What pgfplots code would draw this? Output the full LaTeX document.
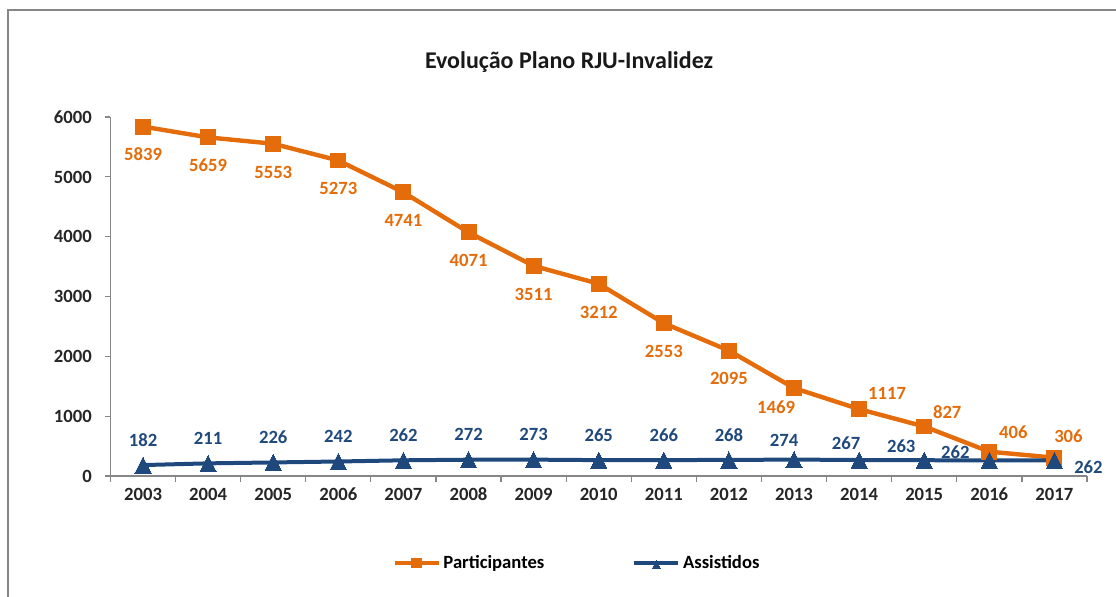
\documentclass[border=0pt]{standalone}
\usepackage{pgfplots}
\usepackage{pgfplotstable}
\usepackage{fontspec}
\setmainfont{Carlito}
\pgfplotsset{compat=1.18}
\definecolor{corange}{HTML}{E46C0A}
\definecolor{cblue}{HTML}{1F497D}
\definecolor{caxis}{HTML}{868686}

\pgfplotstableread{
x y dx dy
2003 5839 0 -21
2004 5659 0 -21
2005 5553 0 -21
2006 5273 0 -21
2007 4741 0 -21
2008 4071 0 -21
2009 3511 0 -21
2010 3212 0 -21
2011 2553 0 -21
2012 2095 0 -21
2013 1469 -13.5 -14.25
2014 1117 21 12
2015 827 17.25 10.5
2016 406 18 15
2017 306 10.5 16.5
}\participantes

\pgfplotstableread{
x y dx dy
2003 182 0 21
2004 211 0 21
2005 226 0 21
2006 242 0 21
2007 262 0 21
2008 272 0 21
2009 273 0 21
2010 265 0 21
2011 266 0 21
2012 268 0 21
2013 274 -7.5 16.5
2014 267 -9.75 15
2015 263 -17.25 12.75
2016 262 -25.5 8.25
2017 262 25.5 -3
}\assistidos

\begin{document}
\begin{tikzpicture}
\begin{axis}[
  scale only axis,
  width=732.4pt, height=269.25pt,
  xmin=2002.5, xmax=2017.5,
  ymin=0, ymax=6000,
  axis lines*=left,
  axis line style={caxis, line width=0.9pt},
  tick align=outside,
  major tick length=4.5pt,
  tick style={caxis, line width=0.9pt},
  xtick={2002.5,2003.5,...,2017.5},
  xticklabels={},
  extra x ticks={2003,2004,...,2017},
  extra x tick style={major tick length=0pt},
  ytick={0,1000,...,6000},
  /pgf/number format/1000 sep={},
  /pgf/number format/assume math mode=true,
  tick label style={font=\fontsize{14}{16}\selectfont\bfseries, text=black!85, text height=9.5pt, text depth=0pt},
  xticklabel style={yshift=-5pt},
  yticklabel style={xshift=-6pt},
  clip=false,
  legend columns=2,
  legend style={draw=none, at={(0.478,-0.2423)}, anchor=center,
    font=\fontsize{14}{16}\selectfont\bfseries,
    /tikz/every even column/.append style={column sep=64pt}},
  legend image code/.code={\draw[#1, mark repeat=2, mark phase=2, mark size=3.5pt] plot coordinates {(0pt,0pt) (16.5pt,0pt) (33pt,0pt)};},
  point meta=explicit symbolic,
  visualization depends on={\thisrow{dx} \as \dx},
  visualization depends on={\thisrow{dy} \as \dy},
]
\addplot[color=corange, line width=3.3pt, mark=square*, mark size=5.6pt,
  mark options={solid, line width=0pt, fill=corange},
  nodes near coords,
  nodes near coords style={anchor=center, text=corange, font=\fontsize{14}{16}\selectfont\bfseries, text height=9.5pt, text depth=0pt, xshift=\dx, yshift=\dy}]
  table[x=x, y=y, meta=y] {\participantes};
\addlegendentry{Participantes}
\addplot[color=cblue, line width=3pt, mark=triangle*, mark size=7pt,
  mark options={solid, line width=0pt, fill=cblue, yscale=1.15, yshift=-1.8pt},
  nodes near coords,
  nodes near coords style={anchor=center, text=cblue, font=\fontsize{14}{16}\selectfont\bfseries, text height=9.5pt, text depth=0pt, xshift=\dx, yshift=\dy}]
  table[x=x, y=y, meta=y] {\assistidos};
\addlegendentry{Assistidos}
\end{axis}
\coordinate (BL) at ([shift={(-82.875pt,-90.75pt)}]current axis.south west);
\coordinate (TR) at ([shift={(21.75pt,87.75pt)}]current axis.north east);
\node[font=\fontsize{18}{20}\selectfont\bfseries, text=black!90] at ([shift={(-22.3pt,41.25pt)}]current axis.north) {Evolução Plano RJU-Invalidez};
\pgfresetboundingbox
\useasboundingbox (BL) rectangle (TR);
\draw[caxis, line width=1.2pt] ([xshift=6pt]BL) -- ([xshift=6pt,yshift=-7.5pt]BL |- TR) -- ([yshift=-7.5pt]TR);
\end{tikzpicture}
\end{document}
